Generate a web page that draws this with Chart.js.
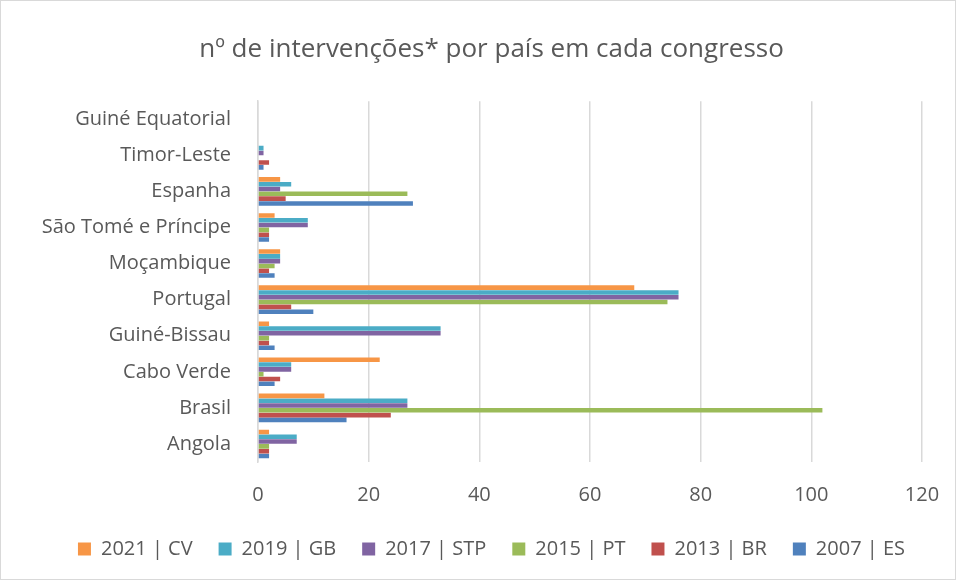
<!DOCTYPE html>
<html><head><meta charset="utf-8">
<script src="https://cdn.jsdelivr.net/npm/chart.js@4/dist/chart.umd.min.js"></script>
<style>
html,body{margin:0;padding:0;background:#fff;}
#wrap{position:absolute;left:0;top:0;width:956px;height:580px;box-sizing:border-box;border:1px solid #d9d9d9;}
canvas{display:block;}
</style></head><body>
<div id="wrap"><canvas id="c" width="954" height="578"></canvas></div>
<script>
const categories = ["Guiné Equatorial","Timor-Leste","Espanha","São Tomé e Príncipe","Moçambique","Portugal","Guiné-Bissau","Cabo Verde","Brasil","Angola"];
const cv2021  = [0, 0, 4, 3, 4, 68, 2, 22, 12, 2];
const gb2019  = [0, 1, 6, 9, 4, 76, 33, 6, 27, 7];
const stp2017 = [0, 1, 4, 9, 4, 76, 33, 6, 27, 7];
const pt2015  = [0, 0, 27, 2, 3, 74, 2, 1, 102, 2];
const br2013  = [0, 2, 5, 2, 2, 6, 2, 4, 24, 2];
const es2007  = [0, 1, 28, 2, 3, 10, 3, 3, 16, 2];
const xTicks = [0, 20, 40, 60, 80, 100, 120];
const seriesNames = ["2021 | CV","2019 | GB","2017 | STP","2015 | PT","2013 | BR","2007 | ES"];
const colors = ["#F79646","#4BACC6","#8064A2","#9BBB59","#C0504D","#4F81BD"];
const series = [cv2021, gb2019, stp2017, pt2015, br2013, es2007];

const font = "'Open Sans', sans-serif";
new Chart(document.getElementById('c'), {
  type: 'bar',
  data: {
    labels: categories,
    datasets: series.map((d,i)=>({label: seriesNames[i], data: d, backgroundColor: colors[i], borderWidth: 0,
      barPercentage: 0.95, categoryPercentage: 0.8}))
  },
  options: {
    indexAxis: 'y',
    responsive: false,
    animation: false,
    layout: {padding: {left: 32, right: 5, top: 10, bottom: 10}},
    plugins: {
      title: {display: true, text: 'nº de intervenções* por país em cada congresso', color: '#595959',
        font: {family: font, size: 26, weight: 'normal'}, padding: {top: 23, bottom: 36}},
      legend: {position: 'bottom', labels: {color: '#595959', font: {family: font, size: 20}, boxWidth: 13, boxHeight: 13, padding: 26}},
      tooltip: {enabled: false}
    },
    scales: {
      x: {min: 0, max: 120, afterBuildTicks: (ax)=>{ax.ticks = xTicks.map(v=>({value:v}));},
        afterFit: (s)=>{s.height -= 15; s.paddingRight = 33;},
        grid: {color: '#d9d9d9', lineWidth: 1.5, drawTicks: false},
        border: {display: false},
        ticks: {color: '#595959', font: {family: font, size: 20}, padding: 21}},
      y: {afterFit: (s)=>{s.width = 225;},
        grid: {display: false, drawTicks: false}, border: {display: true, color: '#d9d9d9', width: 1.5},
        ticks: {color: '#595959', font: {family: font, size: 20}, padding: 27}}
    }
  }
});
</script>
</body></html>
